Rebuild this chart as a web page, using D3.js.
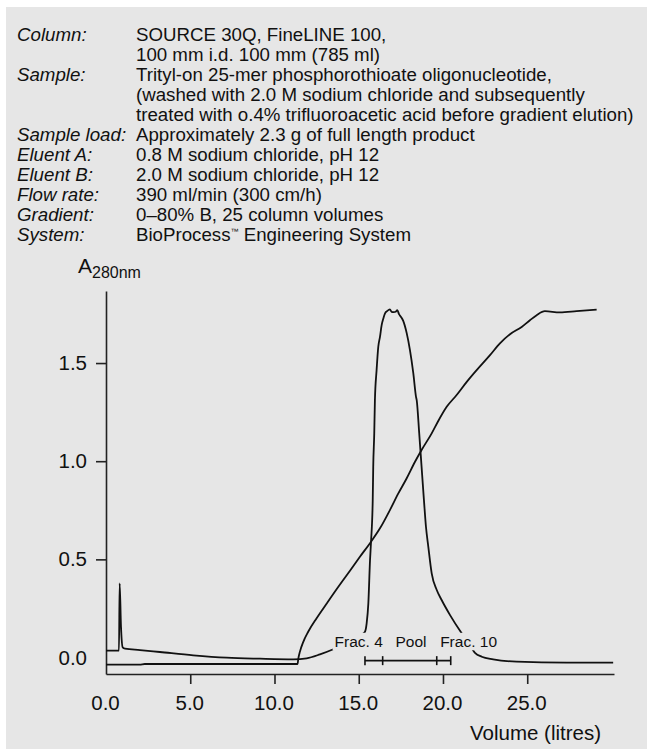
<!DOCTYPE html>
<html>
<head>
<meta charset="utf-8">
<script src="https://cdn.jsdelivr.net/npm/d3@7"></script>
<style>
  html, body { margin: 0; padding: 0; background: #ffffff; }
  svg { display: block; }
  text { font-family: "Liberation Sans", Arial, Helvetica, sans-serif; fill: #111; }
</style>
</head>
<body>
<svg id="chart" width="647" height="749"></svg>
<script>
// Run conditions printed above the chromatogram
const headerLabels = ["Column:", "", "Sample:", "", "", "Sample load:", "Eluent A:", "Eluent B:", "Flow rate:", "Gradient:", "System:"];
const headerValues = [
  "SOURCE 30Q, FineLINE 100,",
  "100 mm i.d. 100 mm (785 ml)",
  "Trityl-on 25-mer phosphorothioate oligonucleotide,",
  "(washed with 2.0 M sodium chloride and subsequently",
  "treated with o.4% trifluoroacetic acid before gradient elution)",
  "Approximately 2.3 g of full length product",
  "0.8 M sodium chloride, pH 12",
  "2.0 M sodium chloride, pH 12",
  "390 ml/min (300 cm/h)",
  "0\u201380% B, 25 column volumes",
  "BioProcess|Engineering System"
];

// Axis ticks
const xTicks = [0, 5, 10, 15, 20, 25];
const yTicks = [0, 0.5, 1.0, 1.5];

// UV absorbance trace: [volume (l), A280]
const uvTrace = [
  [0, 0.035], [0.77, 0.035], [0.81, 0.378], [0.89, 0.157], [0.99, 0.052], [1.13, 0.045],
  [2.02, 0.038], [3.2, 0.028], [5.18, 0.011], [7.16, -0.001], [9.14, -0.006], [11.12, -0.009],
  [11.91, -0.004], [12.7, 0.016], [13.49, 0.042], [14.2, 0.07], [14.8, 0.098], [15.2, 0.118],
  [15.37, 0.131], [15.47, 0.174], [15.57, 0.276], [15.67, 0.496], [15.73, 0.59], [15.83, 0.80],
  [15.86, 0.971], [15.92, 1.14], [15.96, 1.311], [16.06, 1.464], [16.16, 1.583], [16.26, 1.633],
  [16.36, 1.693], [16.46, 1.727], [16.56, 1.753], [16.7, 1.766], [16.85, 1.773], [16.95, 1.761],
  [17.09, 1.759], [17.19, 1.761], [17.29, 1.769], [17.39, 1.749], [17.51, 1.735], [17.64, 1.715],
  [17.85, 1.651], [18.04, 1.566], [18.24, 1.447], [18.4, 1.328], [18.44, 1.311], [18.59, 1.142],
  [18.73, 0.971], [18.87, 0.802], [18.99, 0.666], [19.13, 0.564], [19.33, 0.429], [19.63, 0.344],
  [19.92, 0.293], [20.42, 0.216], [21.11, 0.123], [21.5, 0.075], [21.9, 0.024], [22.3, 0.004],
  [22.98, -0.009], [24.37, -0.021], [27.34, -0.026], [30.1, -0.026]
];

// Gradient (conductivity) trace on the same axes
const gradientTrace = [
  [0, -0.036], [2.0, -0.036], [2.3, -0.033], [11.37, -0.033], [11.41, -0.008], [11.51, 0.03],
  [11.71, 0.08], [12.0, 0.131], [12.5, 0.2], [13.1, 0.275], [13.79, 0.36], [14.48, 0.442],
  [15.07, 0.513], [15.73, 0.59], [16.26, 0.658], [16.85, 0.751], [17.35, 0.836], [17.84, 0.912],
  [18.34, 0.997], [18.73, 1.057], [19.33, 1.142], [19.72, 1.205], [20.22, 1.277], [20.81, 1.337],
  [21.41, 1.404], [22.0, 1.464], [22.79, 1.54], [23.38, 1.6], [23.98, 1.647], [24.67, 1.684],
  [25.16, 1.718], [25.56, 1.744], [26.05, 1.764], [26.94, 1.758], [27.93, 1.764], [29.12, 1.772]
];

// Collected fractions: ends and inner marks of the pooled range
const fractionMarks = [15.37, 16.42, 19.63, 20.46];
const fractionLevel = -0.016;
const fractionLabels = [
  { text: "Frac. 4", x: 15.0 },
  { text: "Pool", x: 18.1 },
  { text: "Frac. 10", x: 21.52 }
];
const fractionLabelLevel = 0.052;

const svg = d3.select("#chart");
const bg = "#e6e6e6";

svg.append("rect")
  .attr("x", 6).attr("y", 7)
  .attr("width", 641).attr("height", 742)
  .attr("fill", bg);

// Header block
const header = svg.append("g").attr("font-size", 18.7);
headerLabels.forEach((lab, i) => {
  const y = 40.7 + i * 20;
  if (lab) {
    header.append("text")
      .attr("x", 17).attr("y", y)
      .attr("font-style", "italic")
      .text(lab);
  }
  const val = headerValues[i];
  const t = header.append("text").attr("x", 136).attr("y", y);
  if (val.includes("|")) {
    const [a, b] = val.split("|");
    t.append("tspan").text(a);
    t.append("tspan").attr("font-size", 8).attr("dy", -7).text("\u2122");
    t.append("tspan").attr("dy", 7).text(" " + b);
  } else {
    t.text(val);
  }
});

// Scales
const x = d3.scaleLinear().domain([0, 30.15]).range([106, 614]);
const y = d3.scaleLinear().domain([-0.084, 1.867]).range([674, 291]);

// Axes
const axisColor = "#222";
const xAxis = svg.append("g")
  .attr("transform", `translate(0,${y.range()[0]})`)
  .call(d3.axisBottom(x).tickValues(xTicks).tickFormat(d3.format(".1f"))
    .tickSize(10).tickSizeOuter(0).tickPadding(11));
const yAxis = svg.append("g")
  .attr("transform", `translate(${x.range()[0]},0)`)
  .call(d3.axisLeft(y).tickValues(yTicks).tickFormat(d3.format(".1f"))
    .tickSize(10).tickSizeOuter(0).tickPadding(9));

[xAxis, yAxis].forEach(g => {
  g.attr("font-family", null).attr("font-size", null);
  g.select(".domain").attr("stroke", axisColor).attr("stroke-width", 1.6);
  g.selectAll(".tick line").attr("stroke", axisColor).attr("stroke-width", 1.6);
  g.selectAll(".tick text").attr("font-size", 20.5).attr("fill", "#111");
  // no tick mark at the origin
  g.selectAll(".tick").filter(d => d === 0).select("line").remove();
});
xAxis.selectAll(".tick text").attr("dx", -1);

svg.append("text")
  .attr("x", 601).attr("y", 740)
  .attr("text-anchor", "end")
  .attr("font-size", 20.5)
  .text("Volume (litres)");

const yLab = svg.append("text")
  .attr("x", 78).attr("y", 273.3)
  .attr("font-size", 21);
yLab.append("tspan").text("A");
yLab.append("tspan").attr("font-size", 16).attr("dy", 5).text("280nm");

// Traces
const line = d3.line()
  .x(d => x(d[0]))
  .y(d => y(d[1]))
  .curve(d3.curveMonotoneX);

svg.append("path").datum(gradientTrace)
  .attr("d", line)
  .attr("fill", "none").attr("stroke", "#111").attr("stroke-width", 1.8)
  .attr("stroke-linejoin", "round");

svg.append("path").datum(uvTrace)
  .attr("d", line)
  .attr("fill", "none").attr("stroke", "#111").attr("stroke-width", 1.8)
  .attr("stroke-linejoin", "round");

// Fraction bar
const fy = y(fractionLevel);
svg.append("line")
  .attr("x1", x(fractionMarks[0])).attr("x2", x(fractionMarks[fractionMarks.length - 1]))
  .attr("y1", fy).attr("y2", fy)
  .attr("stroke", "#111").attr("stroke-width", 1.6);
svg.selectAll(".fmark").data(fractionMarks).enter().append("line")
  .attr("x1", d => x(d)).attr("x2", d => x(d))
  .attr("y1", fy - 4.5).attr("y2", fy + 4.5)
  .attr("stroke", "#111").attr("stroke-width", 1.6);

// Fraction labels, on a patch of background so the trace is interrupted behind them
fractionLabels.forEach(f => {
  const g = svg.append("g");
  const t = g.append("text")
    .attr("x", x(f.x)).attr("y", y(fractionLabelLevel))
    .attr("text-anchor", "middle")
    .attr("font-size", 15.5)
    .text(f.text);
  const bb = t.node().getBBox();
  g.insert("rect", "text")
    .attr("x", bb.x - 2).attr("y", bb.y - 0.5)
    .attr("width", bb.width + 4).attr("height", bb.height + 0.5)
    .attr("fill", bg);
});
</script>
</body>
</html>
